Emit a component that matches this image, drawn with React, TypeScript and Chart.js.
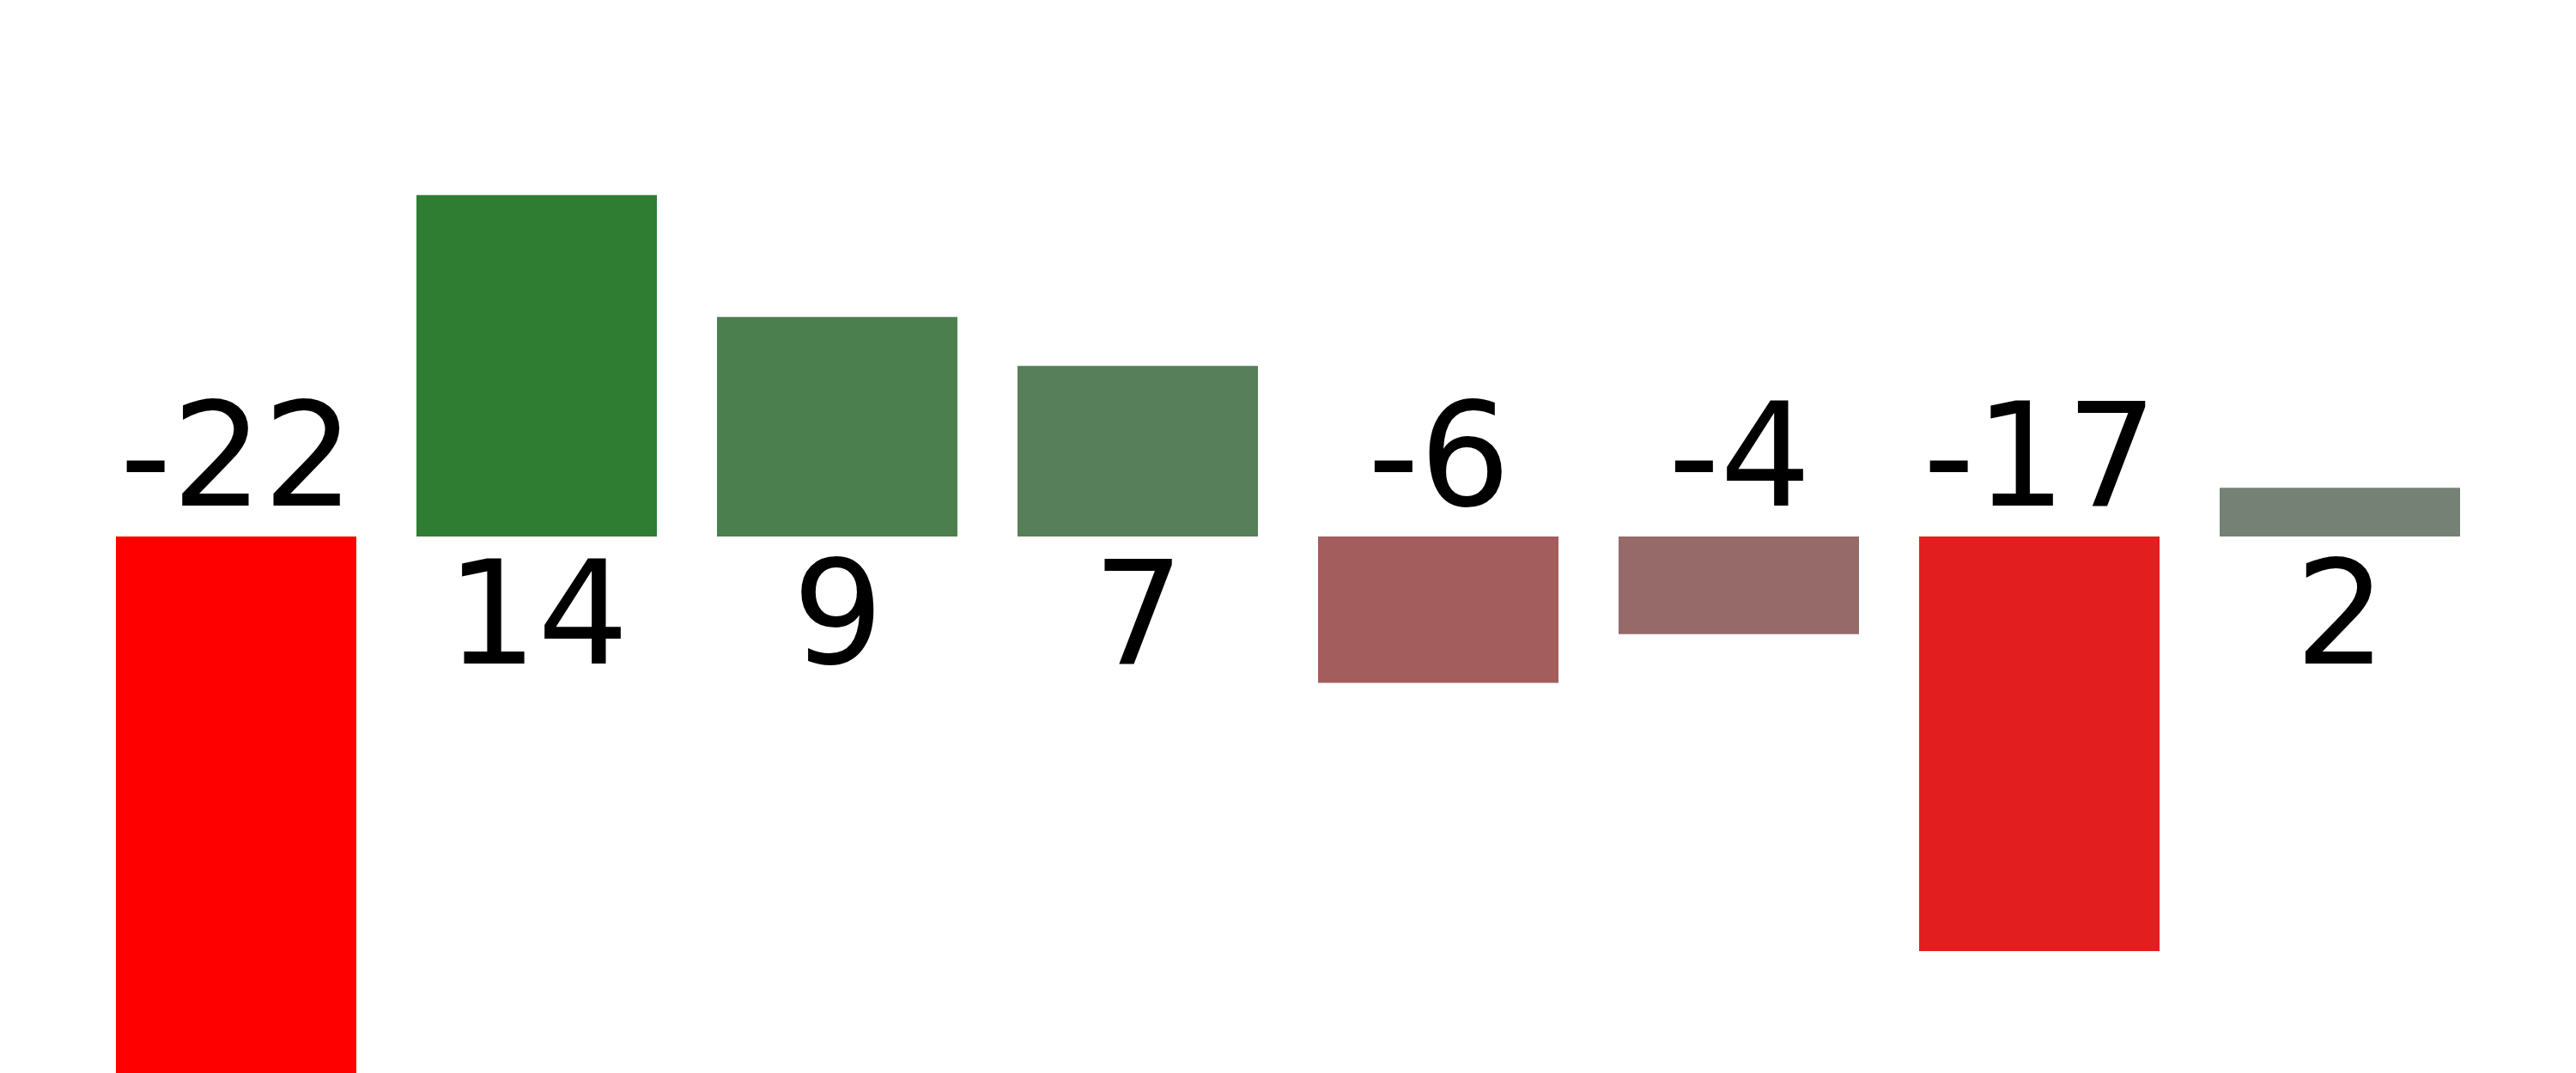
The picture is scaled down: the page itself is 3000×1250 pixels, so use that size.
import React, { useEffect, useRef } from "react";
import { Chart, registerables } from "chart.js";

Chart.register(...registerables);

const categories = ["1", "2", "3", "4", "5", "6", "7", "8"];
const values = [-22, 14, 9, 7, -6, -4, -17, 2];
const barColors = [
  "#ff0000",
  "#2e7d32",
  "#4b7f4e",
  "#577f59",
  "#a35d5d",
  "#976a6a",
  "#e21e1e",
  "#758175",
];
const yMin = -22;
const yMax = 22;

const valueLabels = {
  id: "valueLabels",
  afterDatasetsDraw(chart: any) {
    const ctx = chart.ctx;
    const meta = chart.getDatasetMeta(0);
    const y0 = chart.scales.y.getPixelForValue(0);
    ctx.save();
    ctx.font = "167px 'DejaVu Sans'";
    ctx.fillStyle = "#000000";
    ctx.textAlign = "center";
    ctx.textBaseline = "alphabetic";
    meta.data.forEach((bar: any, i: number) => {
      const v = values[i];
      const y = v < 0 ? y0 - 36 : y0 + 148;
      ctx.fillText(String(v), bar.x + 1, y);
    });
    ctx.restore();
  },
};

export default function App() {
  const ref = useRef<HTMLCanvasElement | null>(null);
  useEffect(() => {
    if (!ref.current) return;
    const chart = new Chart(ref.current, {
      type: "bar",
      data: {
        labels: categories,
        datasets: [
          {
            data: values,
            backgroundColor: barColors,
            borderWidth: 0,
            barPercentage: 0.8,
            categoryPercentage: 1.0,
          },
        ],
      },
      options: {
        animation: false,
        responsive: false,
        devicePixelRatio: 1,
        layout: { padding: { left: 100, right: 100, top: 0, bottom: 0 } },
        plugins: { legend: { display: false }, tooltip: { enabled: false } },
        scales: {
          x: { display: false, grid: { display: false } },
          y: { display: false, min: yMin, max: yMax, grid: { display: false } },
        },
      },
      plugins: [valueLabels],
    });
    return () => chart.destroy();
  }, []);
  return (
    <div style={{ position: "fixed", left: 0, top: 0, width: 3000, height: 1250, background: "#ffffff" }}>
      <canvas ref={ref} width={3000} height={1250} style={{ display: "block" }} />
    </div>
  );
}
